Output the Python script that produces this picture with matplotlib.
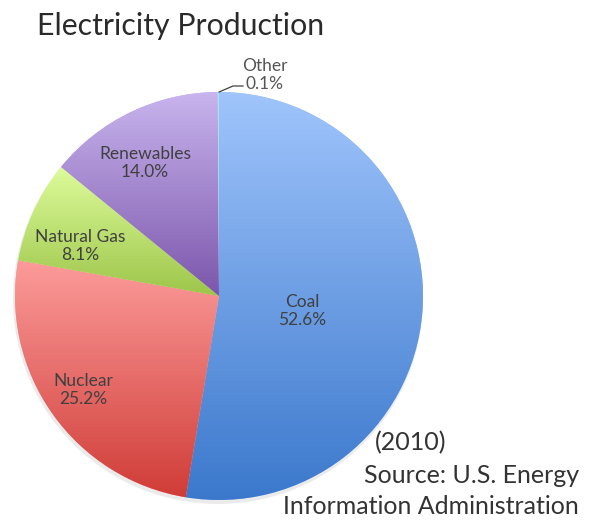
import numpy as np
import matplotlib
matplotlib.use("Agg")
import matplotlib.pyplot as plt
from matplotlib.colors import LinearSegmentedColormap

categories = ["Coal", "Nuclear", "Natural Gas", "Renewables", "Other"]
values = [52.6, 25.2, 8.1, 14.0, 0.1]
top_colors = ["#a0c5fc", "#fc9c9b", "#defc9c", "#c9b5ee", "#a8e6ee"]
bottom_colors = ["#3b78cc", "#d03c37", "#9cc549", "#7b55ab", "#8fd3de"]
source_lines = ["(2010)", "Source: U.S. Energy", "Information Administration"]

W, H = 597, 522
fig = plt.figure(figsize=(W / 100, H / 100), dpi=100)
ax = fig.add_axes([0, 0, 1, 1])

cx, cy, R = 219, H - 296, 204

shadow = plt.Circle((cx - 1, cy - 3), R + 1, color="#000000", alpha=0.08, lw=0, zorder=0)
ax.add_patch(shadow)

wedges, _ = ax.pie(values, radius=R, center=(cx, cy), startangle=90,
                   counterclock=False, frame=True,
                   wedgeprops=dict(linewidth=0, edgecolor="none"))

for w, tc, bc in zip(wedges, top_colors, bottom_colors):
    t1, t2 = np.deg2rad(w.theta1), np.deg2rad(w.theta2)
    ts = np.linspace(t1, t2, 200)
    xs = np.concatenate([[cx], cx + R * np.cos(ts)])
    ys = np.concatenate([[cy], cy + R * np.sin(ts)])
    x0, x1, y0, y1 = xs.min(), xs.max(), ys.min(), ys.max()
    cmap = LinearSegmentedColormap.from_list("g", [bc, tc])
    grad = np.linspace(0, 1, 256).reshape(-1, 1)
    w.set_facecolor(tc)
    im = ax.imshow(grad, extent=[x0 - 1, x1 + 1, y0 - 1, y1 + 1], origin="lower",
                   cmap=cmap, aspect="auto", zorder=w.get_zorder() + 0.1,
                   interpolation="bilinear")
    im.set_clip_path(w)

ax.set_xlim(0, W)
ax.set_ylim(0, H)
ax.set_aspect("equal")
ax.axis("off")

fam = ["Lato", "DejaVu Sans"]
lab_color = "#404040"
label_pos = {
    "Coal": (302, 311),
    "Nuclear": (83, 390),
    "Natural Gas": (80, 246),
    "Renewables": (145, 163),
}
for cat, v in zip(categories, values):
    if cat in label_pos:
        x, y = label_pos[cat]
        ax.text(x, H - y, f"{cat}\n{v:.1f}%", ha="center", va="center",
                fontsize=12.5, color=lab_color, family=fam, weight="normal",
                linespacing=1.15, zorder=10)

ax.text(265, H - 75, f"Other\n{values[4]:.1f}%", ha="center", va="center",
        fontsize=12.5, color="#555555", family=fam, weight="normal",
        linespacing=1.15, zorder=10)
ax.plot([219, 233, 243], [H - 92, H - 86, H - 86], color="#404040", lw=0.9, zorder=10)

ax.text(37, H - 35, "Electricity Production", ha="left", va="baseline",
        fontsize=21.8, color="#2a2a2a", family=fam, weight="normal")

ax.text(375, H - 450, source_lines[0], ha="left", va="baseline", fontsize=18,
        color="#333333", family=fam, weight="normal")
for line, yb in zip(source_lines[1:], [483, 514]):
    ax.text(579, H - yb, line, ha="right", va="baseline", fontsize=18,
            color="#333333", family=fam, weight="normal")

fig.savefig("out.png", dpi=100)
